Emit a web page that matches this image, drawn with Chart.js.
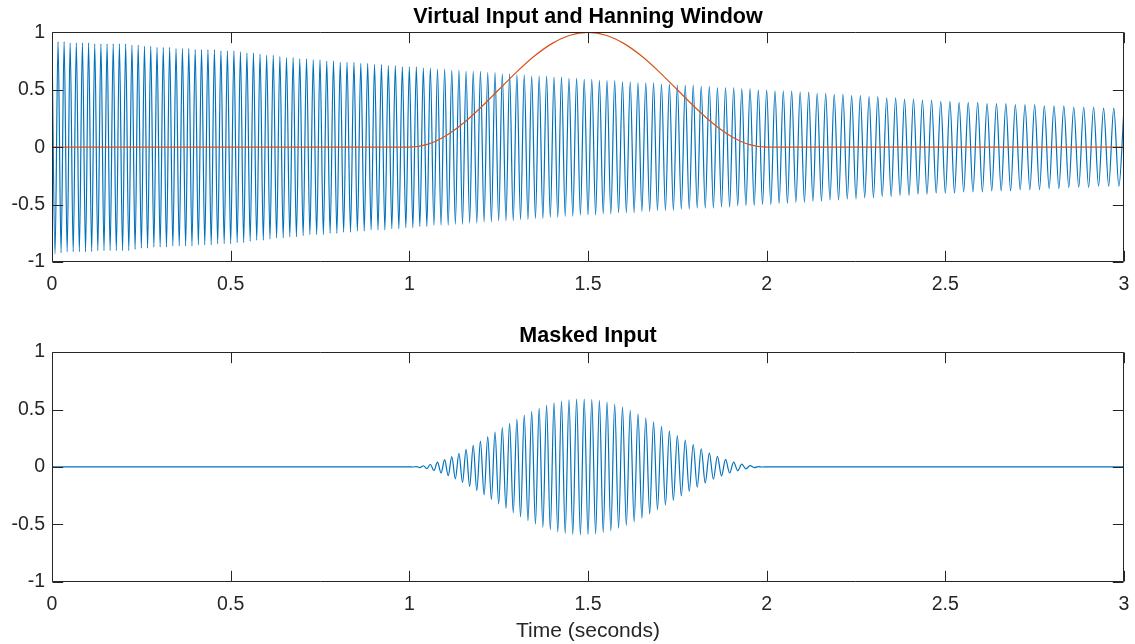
<!DOCTYPE html>
<html>
<head>
<meta charset="utf-8">
<script src="https://cdn.jsdelivr.net/npm/chart.js@4.4.1/dist/chart.umd.min.js"></script>
<style>
    body { margin: 0; background: #ffffff; }
    .panel { position: absolute; left: 0; width: 1135px; height: 322px; }
    #topPanel { top: 0; }
    #bottomPanel { top: 322px; }
</style>
</head>
<body>
<div class="panel" id="topPanel"><canvas id="inputChart"></canvas></div>
<div class="panel" id="bottomPanel"><canvas id="maskedChart"></canvas></div>
<script>
// Tick labels
const xTicks = [0, 0.5, 1, 1.5, 2, 2.5, 3];
const yTicks = [-1, -0.5, 0, 0.5, 1];

// Virtual input: times (s) of each crest/trough and their values
const inputTimes = [
    0, 0.0085, 0.0169, 0.0254, 0.0339, 0.0424, 0.0508, 0.0593, 0.0681, 0.0765,
    0.0851, 0.0938, 0.1024, 0.1110, 0.1196, 0.1282, 0.1369, 0.1455, 0.1541, 0.1627,
    0.1713, 0.1800, 0.1886, 0.1974, 0.2061, 0.2149, 0.2237, 0.2325, 0.2412, 0.2500,
    0.2588, 0.2675, 0.2763, 0.2851, 0.2939, 0.3026, 0.3114, 0.3203, 0.3292, 0.3382,
    0.3471, 0.3560, 0.3650, 0.3739, 0.3828, 0.3917, 0.4007, 0.4096, 0.4185, 0.4275,
    0.4364, 0.4455, 0.4545, 0.4636, 0.4727, 0.4818, 0.4909, 0.5000, 0.5091, 0.5182,
    0.5273, 0.5364, 0.5455, 0.5545, 0.5637, 0.5729, 0.5822, 0.5914, 0.6007, 0.6100,
    0.6192, 0.6285, 0.6377, 0.6470, 0.6562, 0.6655, 0.6748, 0.6840, 0.6934, 0.7028,
    0.7123, 0.7217, 0.7311, 0.7406, 0.7500, 0.7594, 0.7689, 0.7783, 0.7877, 0.7972,
    0.8066, 0.8161, 0.8257, 0.8353, 0.8450, 0.8546, 0.8642, 0.8738, 0.8834, 0.8930,
    0.9026, 0.9123, 0.9219, 0.9315, 0.9412, 0.9510, 0.9608, 0.9706, 0.9804, 0.9902,
    1.0000, 1.0098, 1.0196, 1.0294, 1.0392, 1.0490, 1.0588, 1.0688, 1.0788, 1.0888,
    1.0988, 1.1088, 1.1188, 1.1288, 1.1388, 1.1488, 1.1588, 1.1688, 1.1788, 1.1888,
    1.1990, 1.2092, 1.2194, 1.2296, 1.2398, 1.2500, 1.2602, 1.2704, 1.2806, 1.2908,
    1.3010, 1.3112, 1.3216, 1.3320, 1.3424, 1.3529, 1.3633, 1.3737, 1.3841, 1.3945,
    1.4049, 1.4154, 1.4258, 1.4362, 1.4468, 1.4574, 1.4681, 1.4787, 1.4894, 1.5000,
    1.5106, 1.5213, 1.5319, 1.5426, 1.5532, 1.5639, 1.5747, 1.5856, 1.5965, 1.6073,
    1.6182, 1.6291, 1.6399, 1.6508, 1.6617, 1.6726, 1.6834, 1.6944, 1.7056, 1.7167,
    1.7278, 1.7389, 1.7500, 1.7611, 1.7722, 1.7833, 1.7944, 1.8056, 1.8168, 1.8281,
    1.8395, 1.8509, 1.8622, 1.8736, 1.8849, 1.8963, 1.9077, 1.9190, 1.9304, 1.9419,
    1.9535, 1.9651, 1.9767, 1.9884, 2.0000, 2.0116, 2.0233, 2.0349, 2.0465, 2.0581,
    2.0699, 2.0818, 2.0937, 2.1057, 2.1176, 2.1295, 2.1414, 2.1533, 2.1652, 2.1771,
    2.1890, 2.2012, 2.2134, 2.2256, 2.2378, 2.2500, 2.2622, 2.2744, 2.2866, 2.2988,
    2.3110, 2.3234, 2.3359, 2.3484, 2.3609, 2.3734, 2.3859, 2.3984, 2.4109, 2.4234,
    2.4359, 2.4487, 2.4615, 2.4744, 2.4872, 2.5000, 2.5128, 2.5256, 2.5385, 2.5513,
    2.5641, 2.5773, 2.5905, 2.6036, 2.6168, 2.6299, 2.6431, 2.6563, 2.6694, 2.6826,
    2.6959, 2.7095, 2.7230, 2.7365, 2.7500, 2.7635, 2.7770, 2.7905, 2.8041, 2.8177,
    2.8316, 2.8455, 2.8594, 2.8733, 2.8872, 2.9010, 2.9149, 2.9288, 2.9429, 2.9571,
    2.9714, 2.9857, 3.0000
];
const inputValues = [
    0.93, -0.93, 0.92, -0.92, 0.92, -0.91, 0.91, -0.91, 0.91, -0.91,
    0.91, -0.91, 0.91, -0.91, 0.90, -0.90, 0.90, -0.90, 0.90, -0.90,
    0.90, -0.90, 0.90, -0.90, 0.90, -0.90, 0.89, -0.89, 0.89, -0.88,
    0.88, -0.88, 0.88, -0.87, 0.87, -0.87, 0.87, -0.87, 0.87, -0.86,
    0.86, -0.86, 0.86, -0.86, 0.86, -0.86, 0.85, -0.85, 0.85, -0.85,
    0.85, -0.85, 0.85, -0.84, 0.84, -0.84, 0.84, -0.84, 0.84, -0.83,
    0.83, -0.83, 0.82, -0.82, 0.82, -0.81, 0.81, -0.81, 0.80, -0.80,
    0.80, -0.79, 0.79, -0.79, 0.78, -0.78, 0.78, -0.78, 0.77, -0.77,
    0.77, -0.76, 0.76, -0.76, 0.76, -0.76, 0.75, -0.75, 0.75, -0.75,
    0.74, -0.74, 0.74, -0.74, 0.74, -0.73, 0.73, -0.73, 0.73, -0.72,
    0.72, -0.72, 0.72, -0.72, 0.71, -0.71, 0.71, -0.71, 0.70, -0.70,
    0.70, -0.70, 0.70, -0.69, 0.69, -0.69, 0.69, -0.68, 0.68, -0.68,
    0.68, -0.68, 0.67, -0.67, 0.67, -0.67, 0.66, -0.66, 0.66, -0.66,
    0.66, -0.65, 0.65, -0.65, 0.65, -0.64, 0.64, -0.64, 0.64, -0.64,
    0.63, -0.63, 0.63, -0.63, 0.62, -0.62, 0.62, -0.62, 0.62, -0.61,
    0.61, -0.61, 0.61, -0.60, 0.60, -0.60, 0.60, -0.59, 0.59, -0.59,
    0.59, -0.59, 0.58, -0.58, 0.58, -0.58, 0.58, -0.57, 0.57, -0.57,
    0.57, -0.57, 0.56, -0.56, 0.56, -0.56, 0.56, -0.55, 0.55, -0.55,
    0.55, -0.55, 0.54, -0.54, 0.54, -0.54, 0.54, -0.53, 0.53, -0.53,
    0.53, -0.53, 0.52, -0.52, 0.52, -0.52, 0.52, -0.51, 0.51, -0.51,
    0.51, -0.51, 0.50, -0.50, 0.50, -0.50, 0.49, -0.49, 0.49, -0.49,
    0.49, -0.48, 0.48, -0.48, 0.48, -0.47, 0.47, -0.47, 0.47, -0.46,
    0.46, -0.46, 0.46, -0.45, 0.45, -0.45, 0.45, -0.44, 0.44, -0.44,
    0.44, -0.43, 0.43, -0.43, 0.43, -0.42, 0.42, -0.42, 0.42, -0.41,
    0.41, -0.41, 0.41, -0.40, 0.40, -0.40, 0.40, -0.40, 0.39, -0.39,
    0.39, -0.39, 0.39, -0.39, 0.38, -0.38, 0.38, -0.38, 0.38, -0.38,
    0.37, -0.37, 0.37, -0.37, 0.37, -0.37, 0.36, -0.36, 0.36, -0.36,
    0.36, -0.35, 0.35, -0.35, 0.35, -0.35, 0.35, -0.34, 0.34, -0.34,
    0.34, -0.34, 0.34
];

// Hanning window (orange)
const windowTimes = [
    0, 1, 1.05, 1.1, 1.15, 1.2, 1.25, 1.3, 1.35, 1.4, 1.45, 1.5,
    1.55, 1.6, 1.65, 1.7, 1.75, 1.8, 1.85, 1.9, 1.95, 2, 3
];
const windowValues = [
    0, 0, 0.0245, 0.0955, 0.2061, 0.3455, 0.5, 0.6545, 0.7939, 0.9045, 0.9755, 1,
    0.9755, 0.9045, 0.7939, 0.6545, 0.5, 0.3455, 0.2061, 0.0955, 0.0245, 0, 0
];

// Masked input: crest/trough times and values
const maskedTimes = [
    0, 1.0000, 1.0098, 1.0196, 1.0294, 1.0392, 1.0490, 1.0588, 1.0688, 1.0788, 1.0888,
    1.0988, 1.1088, 1.1188, 1.1288, 1.1388, 1.1488, 1.1588, 1.1688, 1.1788, 1.1888,
    1.1990, 1.2092, 1.2194, 1.2296, 1.2398, 1.2500, 1.2602, 1.2704, 1.2806, 1.2908,
    1.3010, 1.3112, 1.3216, 1.3320, 1.3424, 1.3529, 1.3633, 1.3737, 1.3841, 1.3945,
    1.4049, 1.4154, 1.4258, 1.4362, 1.4468, 1.4574, 1.4681, 1.4787, 1.4894, 1.5000,
    1.5106, 1.5213, 1.5319, 1.5426, 1.5532, 1.5639, 1.5747, 1.5856, 1.5965, 1.6073,
    1.6182, 1.6291, 1.6399, 1.6508, 1.6617, 1.6726, 1.6834, 1.6944, 1.7056, 1.7167,
    1.7278, 1.7389, 1.7500, 1.7611, 1.7722, 1.7833, 1.7944, 1.8056, 1.8168, 1.8281,
    1.8395, 1.8509, 1.8622, 1.8736, 1.8849, 1.8963, 1.9077, 1.9190, 1.9304, 1.9419,
    1.9535, 1.9651, 1.9767, 1.9884, 2.0000, 3
];
const maskedValues = [
    0, 0, -0.001, 0.003, -0.006, 0.010, -0.016, 0.023, -0.032, 0.041, -0.052,
    0.063, -0.076, 0.090, -0.104, 0.119, -0.135, 0.152, -0.170, 0.188, -0.206,
    0.225, -0.244, 0.264, -0.283, 0.303, -0.323, 0.342, -0.362, 0.380, -0.399,
    0.417, -0.434, 0.451, -0.468, 0.484, -0.498, 0.512, -0.526, 0.538, -0.548,
    0.558, -0.567, 0.574, -0.580, 0.585, -0.588, 0.591, -0.592, 0.591, -0.590,
    0.587, -0.583, 0.578, -0.572, 0.564, -0.555, 0.546, -0.534, 0.522, -0.509,
    0.494, -0.479, 0.463, -0.446, 0.428, -0.410, 0.392, -0.373, 0.353, -0.333,
    0.313, -0.293, 0.273, -0.253, 0.233, -0.213, 0.195, -0.176, 0.158, -0.140,
    0.123, -0.107, 0.092, -0.078, 0.065, -0.053, 0.042, -0.033, 0.024, -0.017,
    0.011, -0.006, 0.003, -0.001, 0, 0
];

const axisColor = "#262626";
const fontFamily = "'Liberation Sans', Arial, Helvetica, sans-serif";

function toPoints(xs, ys) {
    return xs.map((x, i) => ({ x: x, y: ys[i] }));
}

// MATLAB style box with inward ticks on all four sides
const boxTicks = {
    id: "boxTicks",
    afterDatasetsDraw(chart) {
        const { ctx, chartArea: a, scales: { x, y } } = chart;
        const len = 10.7;
        const l = Math.round(a.left) + 0.5, r = Math.round(a.right) - 0.5;
        const t = Math.round(a.top) + 0.5, b = Math.round(a.bottom) - 0.5;
        ctx.save();
        ctx.strokeStyle = axisColor;
        ctx.lineWidth = 1;
        ctx.beginPath();
        ctx.rect(l, t, r - l, b - t);
        x.ticks.forEach(tk => {
            const px = Math.round(x.getPixelForValue(tk.value)) + 0.5;
            ctx.moveTo(px, b); ctx.lineTo(px, b - len);
            ctx.moveTo(px, t); ctx.lineTo(px, t + len);
        });
        y.ticks.forEach(tk => {
            const py = Math.round(y.getPixelForValue(tk.value)) + 0.5;
            ctx.moveTo(l, py); ctx.lineTo(l + len, py);
            ctx.moveTo(r, py); ctx.lineTo(r - len, py);
        });
        ctx.stroke();
        ctx.restore();
    }
};

function makeOptions(titleText, titlePad, xHeight, xTitle) {
    return {
        responsive: true,
        maintainAspectRatio: false,
        animation: false,
        events: [],
        layout: { padding: { left: 0, right: 11, top: 0, bottom: 0 } },
        plugins: {
            legend: { display: false },
            tooltip: { enabled: false },
            title: {
                display: true,
                text: titleText,
                fullSize: false,
                color: "#000000",
                font: { family: fontFamily, size: 21.5, weight: "bold" },
                padding: titlePad
            }
        },
        scales: {
            x: {
                type: "linear",
                min: 0,
                max: 3,
                afterBuildTicks: s => { s.ticks = xTicks.map(v => ({ value: v })); },
                afterFit: s => {
                    s.height = xHeight;
                    s.paddingLeft = 0;
                    s.paddingRight = 0;
                },
                grid: { display: false, drawTicks: false },
                border: { display: false },
                ticks: {
                    padding: 11,
                    color: axisColor,
                    maxRotation: 0,
                    font: { family: fontFamily, size: 19.5 },
                    callback: v => String(v)
                },
                title: {
                    display: !!xTitle,
                    text: xTitle || "",
                    color: axisColor,
                    font: { family: fontFamily, size: 21 },
                    padding: { top: 0, bottom: 0 }
                }
            },
            y: {
                min: -1,
                max: 1,
                afterBuildTicks: s => { s.ticks = yTicks.map(v => ({ value: v })); },
                afterFit: s => { s.width = 52; },
                grid: { display: false, drawTicks: false },
                border: { display: false },
                ticks: {
                    padding: 7,
                    color: axisColor,
                    font: { family: fontFamily, size: 19.5 },
                    callback: v => String(v)
                }
            }
        }
    };
}

new Chart("inputChart", {
    type: "line",
    data: {
        datasets: [{
            label: "Hanning Window",
            data: toPoints(windowTimes, windowValues),
            borderColor: "#D95319",
            borderWidth: 1.2,
            pointRadius: 0,
            cubicInterpolationMode: "monotone",
            fill: false
        }, {
            label: "Virtual Input",
            data: toPoints(inputTimes, inputValues),
            borderColor: "#0072BD",
            borderWidth: 1.2,
            pointRadius: 0,
            cubicInterpolationMode: "monotone",
            fill: false
        }]
    },
    options: makeOptions("Virtual Input and Hanning Window", { top: 4, bottom: 2.6 }, 60, null),
    plugins: [boxTicks]
});

new Chart("maskedChart", {
    type: "line",
    data: {
        datasets: [{
            label: "Masked Input",
            data: toPoints(maskedTimes, maskedValues),
            borderColor: "#0072BD",
            borderWidth: 1.2,
            pointRadius: 0,
            cubicInterpolationMode: "monotone",
            fill: false
        }]
    },
    options: makeOptions("Masked Input", { top: 1, bottom: 3.3 }, 62.3, "Time (seconds)"),
    plugins: [boxTicks]
});
</script>
</body>
</html>
